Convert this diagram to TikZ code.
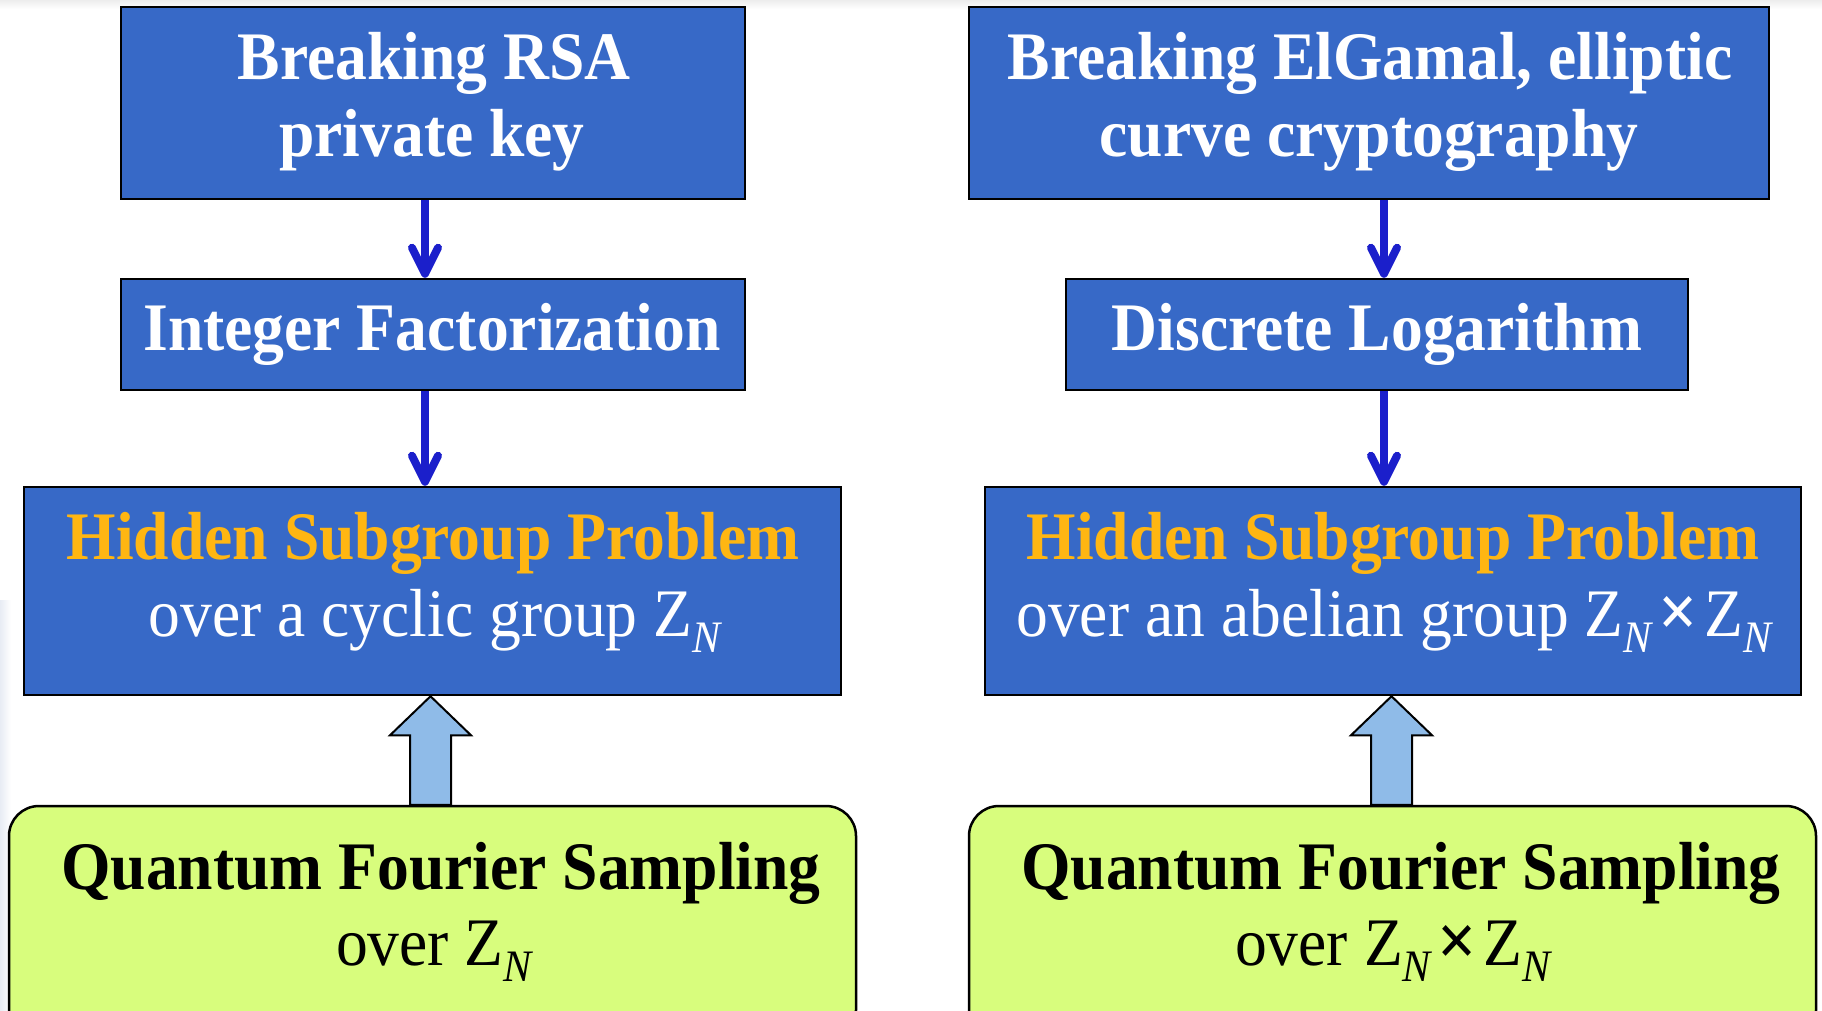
\documentclass[tikz,border=0pt]{standalone}
\usepackage{fontspec}
\setmainfont{Liberation Serif}[FakeStretch=0.935]
\usetikzlibrary{arrows.meta,calc}

\definecolor{boxblue}{RGB}{55,105,199}
\definecolor{hspgold}{RGB}{255,182,18}
\definecolor{qfsgreen}{RGB}{216,253,125}
\definecolor{linkblue}{RGB}{27,31,203}
\definecolor{fatblue}{RGB}{143,187,232}
\definecolor{edgehaze}{RGB}{232,236,244}

% Z with an italic subscript N
\newcommand\subN{\raisebox{-16pt}{\fontsize{45}{45}\selectfont\mdseries\itshape N}}
\newcommand\ZN{Z\subN}
\newcommand\crossgap{\hspace{0.1em}{\fontsize{74}{77}\selectfont\bfseries ×}\hspace{0.1em}}

\begin{document}
\begin{tikzpicture}[x=1pt,y=-1pt,
  bluebox/.style={draw=black, line width=2.5pt, fill=boxblue, inner sep=0pt},
  greenbox/.style={draw=black, line width=2.5pt, fill=qfsgreen, rounded corners=30pt, inner sep=0pt},
  boldtxt/.style={anchor=base, inner sep=0pt, font=\fontsize{68}{77}\selectfont\bfseries},
  regtxt/.style={anchor=base, inner sep=0pt, font=\fontsize{68}{77}\selectfont},
  link/.style={draw=linkblue, line width=8pt,
    -{Straight Barb[length=26pt, width=26pt, line cap=round, line join=round]}},
  fatarrow/.style={draw=black, line width=2pt, fill=fatblue, line join=miter}
]
\clip (0,0) rectangle (1822,1010);
\fill[white] (0,0) rectangle (1822,1010);
\shade[top color=black!7, bottom color=white] (0,0) rectangle (1822,9);
\shade[left color=edgehaze, right color=white] (0,600) rectangle (11,1010);

% ---- left column: RSA ----
\node[bluebox, minimum width=624pt, minimum height=192pt] (rsa) at (433,103) {};
\node[bluebox, minimum width=624pt, minimum height=111pt] (ifac) at (433,334.5) {};
\node[bluebox, minimum width=817pt, minimum height=208pt] (hspL) at (432.5,591) {};
\node[greenbox, minimum width=847pt, minimum height=234pt] (qfsL) at (432.5,923) {};

\node[boldtxt, text=white] (rsa1) at (434,79) {Breaking RSA};
\node[boldtxt, text=white] (rsa2) at (432,156) {private key};
\node[boldtxt, text=white] (ifact) at (432,350) {Integer Factorization};
\node[boldtxt, text=hspgold] (hspL1) at (433,559) {Hidden Subgroup Problem};
\node[regtxt, text=white] (hspL2) at (434.5,636) {over a cyclic group \ZN};
\node[boldtxt, text=black] (qfsL1) at (441,889) {Quantum Fourier Sampling};
\node[regtxt, text=black] (qfsL2) at (434,965) {over \ZN};

% ---- right column: ElGamal / ECC ----
\node[bluebox, minimum width=800pt, minimum height=192pt] (egm) at (1369,103) {};
\node[bluebox, minimum width=622pt, minimum height=111pt] (dlog) at (1377,334.5) {};
\node[bluebox, minimum width=816pt, minimum height=208pt] (hspR) at (1393,591) {};
\node[greenbox, minimum width=847pt, minimum height=234pt] (qfsR) at (1392.5,923) {};

\node[boldtxt, text=white] (egm1) at (1370,79) {Breaking ElGamal, elliptic};
\node[boldtxt, text=white] (egm2) at (1369,156) {curve cryptography};
\node[boldtxt, text=white] (dlogt) at (1377,350) {Discrete Logarithm};
\node[boldtxt, text=hspgold] (hspR1) at (1393,559) {Hidden Subgroup Problem};
\node[regtxt, text=white] (hspR2) at (1394,636) {over an abelian group \ZN\crossgap\ZN};
\node[boldtxt, text=black] (qfsR1) at (1401,889) {Quantum Fourier Sampling};
\node[regtxt, text=black] (qfsR2) at (1393,965) {over \ZN\crossgap\ZN};

% ---- reduction arrows ----
\coordinate (axL) at (425,0);
\coordinate (axR) at (1384,0);
\draw[link] (rsa.south -| axL) -- (ifac.north -| axL);
\draw[link] (ifac.south -| axL) -- (hspL.north -| axL);
\draw[link] (egm.south -| axR) -- (dlog.north -| axR);
\draw[link] (dlog.south -| axR) -- (hspR.north -| axR);

% ---- block arrows from sampling to hidden subgroup ----
\coordinate (bxL) at (430.5,0);
\coordinate (bxR) at (1391.5,0);
\foreach \hsp/\qfs/\bx in {hspL/qfsL/bxL, hspR/qfsR/bxR} {
  \coordinate (T) at (\hsp.south -| \bx);
  \coordinate (B) at (\qfs.north -| \bx);
  \draw[fatarrow] ($(B)+(-20.5,0)$) -- ($(T)+(-20.5,39)$) -- ($(T)+(-40.5,39)$)
    -- (T) -- ($(T)+(40.5,39)$) -- ($(T)+(20.5,39)$) -- ($(B)+(20.5,0)$) -- cycle;
}
\end{tikzpicture}
\end{document}
